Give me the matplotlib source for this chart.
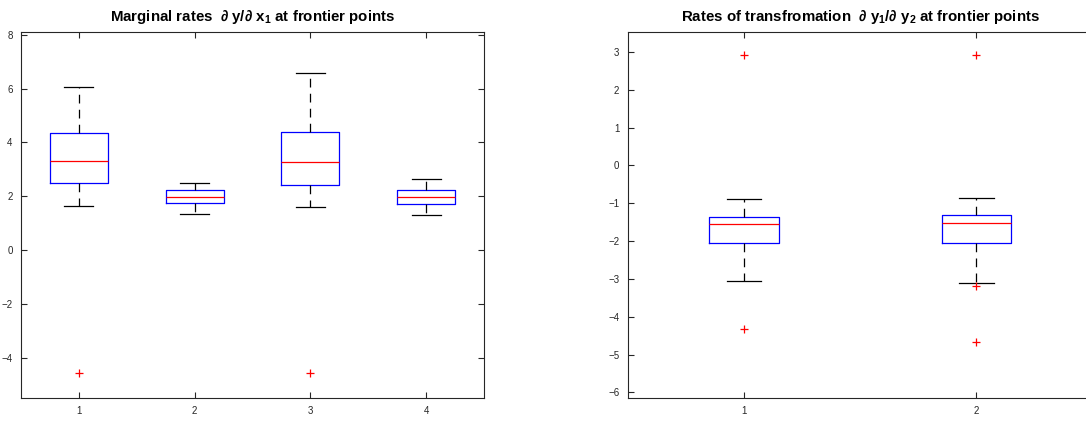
import matplotlib
matplotlib.use("Agg")
import matplotlib.pyplot as plt

plt.rcParams['font.family'] = ['Liberation Sans', 'DejaVu Sans']
plt.rcParams['mathtext.fontset'] = 'custom'
plt.rcParams['mathtext.rm'] = 'Liberation Sans:bold'
plt.rcParams['mathtext.it'] = 'Liberation Sans:bold'
plt.rcParams['mathtext.bf'] = 'Liberation Sans:bold'

# Left panel: marginal rates dy/dx1 (4 groups)
left_labels = ["1", "2", "3", "4"]
left_whislo = [1.65, 1.33, 1.59, 1.32]
left_q1 = [2.48, 1.74, 2.41, 1.73]
left_med = [3.30, 1.97, 3.27, 1.97]
left_q3 = [4.34, 2.22, 4.38, 2.25]
left_whishi = [6.04, 2.50, 6.56, 2.63]
left_fliers = [[-4.58], [], [-4.58], []]

# Right panel: rates of transformation dy1/dy2 (2 groups)
right_labels = ["1", "2"]
right_whislo = [-3.05, -3.12]
right_q1 = [-2.055, -2.04]
right_med = [-1.56, -1.51]
right_q3 = [-1.36, -1.31]
right_whishi = [-0.874, -0.87]
right_fliers = [[2.93, -4.33], [2.93, -3.19, -4.66]]

W, H = 1086, 422
fig = plt.figure(figsize=(W / 100, H / 100), dpi=100)

ax1 = fig.add_axes([21 / W, 1 - 397.7 / H, 463 / W, 365.7 / H])
ax2 = fig.add_axes([627.7 / W, 1 - 397.7 / H, 465 / W, 365.7 / H])

def make_stats(labels, lo, q1, med, q3, hi, fl):
    return [dict(label=l, whislo=a, q1=b, med=c, q3=d, whishi=e, fliers=f)
            for l, a, b, c, d, e, f in zip(labels, lo, q1, med, q3, hi, fl)]

def draw(ax, stats, width):
    ax.bxp(stats, widths=width, showfliers=True,
           boxprops=dict(color='#0000ff', linewidth=0.9),
           medianprops=dict(color='#ff0000', linewidth=0.9),
           whiskerprops=dict(color='black', linewidth=0.9, linestyle=(0, (7, 5))),
           capprops=dict(color='black', linewidth=0.9),
           capwidths=width / 2,
           flierprops=dict(marker='+', markeredgecolor='#ff0000', markersize=6,
                           linestyle='none', markeredgewidth=0.9))

draw(ax1, make_stats(left_labels, left_whislo, left_q1, left_med, left_q3,
                     left_whishi, left_fliers), 0.5)
draw(ax2, make_stats(right_labels, right_whislo, right_q1, right_med, right_q3,
                     right_whishi, right_fliers), 0.3)

ax1.set_xlim(0.5, 4.5)
ax1.set_ylim(-5.48, 8.1)
ax1.set_yticks([-4, -2, 0, 2, 4, 6, 8])
ax2.set_xlim(0.5, 2.5)
ax2.set_ylim(-6.14, 3.53)
ax2.set_yticks(list(range(-6, 4)))

for ax in (ax1, ax2):
    for s in ax.spines.values():
        s.set_color('#262626')
        s.set_linewidth(0.8)
    ax.tick_params(direction='in', length=4, width=0.8, top=True, right=True,
                   labelsize=7, colors='#262626', pad=6)

ax1.set_title("Marginal rates  \u2202 y/\u2202 x$_1$ at frontier points",
              fontsize=10.8, fontweight='bold', pad=8)
ax2.set_title("Rates of transfromation  \u2202 y$_1$/\u2202 y$_2$ at frontier points",
              fontsize=10.8, fontweight='bold', pad=8)

fig.savefig("out.png", dpi=100)
